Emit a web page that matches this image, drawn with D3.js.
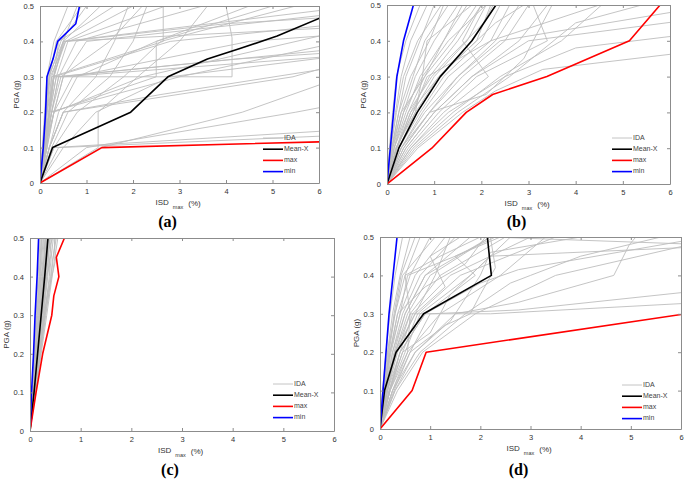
<!DOCTYPE html>
<html>
<head>
<meta charset="utf-8">
<script src="https://cdn.jsdelivr.net/npm/d3@7/dist/d3.min.js"></script>
<style>
html,body{margin:0;padding:0;background:#fff;}
svg{display:block;}
</style>
</head>
<body>
<svg id="chart" width="685" height="480"></svg>
<script>
// ---------------- DATA ----------------
const xTickValues = [0, 1, 2, 3, 4, 5, 6];
const yTickValues = [0, 0.1, 0.2, 0.3, 0.4, 0.5];
const yTickLabels = ["0", "0.1", "0.2", "0.3", "0.4", "0.5"];
const legendLabels = ["IDA", "Mean-X", "max", "min"];
const panelLabels = ["(a)", "(b)", "(c)", "(d)"];

// Panel (a)
const minA = [[0,0],[0.07,0.1],[0.12,0.2],[0.15,0.3],[0.28,0.35],[0.38,0.4],[0.77,0.45],[0.85,0.5]];
const meanA = [[0,0],[0.27,0.1],[1.95,0.2],[2.75,0.3],[3.6,0.35],[4.3,0.38],[5.1,0.415],[6,0.465],[6.6,0.49]];
const maxA = [[0,0],[1.33,0.1],[6.5,0.118]];
const idaA = [
  [[0,0],[0.05,0.1],[0.1,0.2],[0.15,0.3],[0.3,0.4],[0.6,0.5]],
  [[0,0],[0.06,0.1],[0.12,0.2],[0.2,0.3],[0.45,0.4],[1.0,0.5]],
  [[0,0],[0.08,0.1],[0.15,0.2],[0.25,0.3],[0.5,0.4],[1.3,0.5]],
  [[0,0],[0.07,0.1],[0.14,0.2],[0.22,0.3],[0.55,0.4],[2.0,0.5]],
  [[0,0],[0.1,0.1],[0.2,0.2],[0.3,0.3],[0.52,0.4],[6.5,0.495]],
  [[0,0],[0.09,0.1],[0.18,0.2],[0.28,0.3],[0.55,0.4],[4.0,0.45],[6.5,0.47]],
  [[0,0],[0.1,0.1],[0.22,0.2],[0.35,0.3],[0.6,0.4],[2.7,0.5]],
  [[0,0],[0.12,0.1],[0.25,0.2],[0.4,0.3],[0.78,0.4],[3.5,0.5]],
  [[0,0],[0.1,0.1],[0.2,0.2],[0.25,0.3],[2.65,0.4],[2.65,0.5]],
  [[0,0],[0.12,0.1],[0.2,0.2],[0.3,0.3],[4.13,0.3],[4.13,0.41],[4.0,0.5]],
  [[0,0],[0.1,0.1],[0.25,0.2],[2.5,0.3],[2.5,0.4],[5.0,0.5]],
  [[0,0],[0.15,0.1],[0.3,0.2],[0.5,0.3],[1.0,0.4],[6.5,0.48]],
  [[0,0],[0.1,0.1],[0.3,0.2],[0.5,0.3],[6.5,0.36]],
  [[0,0],[0.13,0.1],[0.25,0.2],[0.4,0.3],[6.5,0.38]],
  [[0,0],[0.1,0.1],[0.2,0.2],[3.0,0.3],[6.5,0.4]],
  [[0,0],[0.15,0.1],[0.3,0.2],[2.2,0.3],[6.5,0.43]],
  [[0,0],[0.2,0.1],[0.5,0.2],[5.44,0.3],[6.5,0.34]],
  [[0,0],[1.3,0.1],[4.35,0.2],[6.5,0.3]],
  [[0,0],[1.25,0.1],[1.25,0.2],[2.1,0.3],[3.0,0.4],[3.6,0.5]],
  [[0,0],[0.3,0.1],[6.5,0.15]],
  [[0,0],[0.4,0.1],[6.5,0.135]],
  [[0,0],[1.0,0.1],[5.5,0.2],[6.5,0.225]],
  [[0,0],[0.25,0.1],[0.6,0.2],[1.5,0.3],[2.0,0.4],[2.3,0.5]],
  [[0,0],[0.2,0.1],[0.5,0.2],[1.2,0.3],[1.6,0.4],[1.9,0.5]],
  [[0,0],[0.08,0.1],[0.2,0.2],[0.3,0.3],[0.5,0.4],[0.8,0.5]],
  [[0,0],[0.05,0.1],[0.12,0.2],[0.18,0.3],[0.5,0.4],[6.5,0.44]],
  [[0,0],[0.07,0.1],[0.15,0.2],[0.3,0.3],[2.8,0.4],[6.5,0.45]],
  [[0,0],[0.1,0.1],[0.2,0.2],[0.35,0.3],[4.2,0.35],[6.5,0.37]],
  [[0,0],[0.12,0.1],[0.3,0.2],[0.7,0.3],[4.5,0.4],[6.5,0.42]],
  [[0,0],[0.1,0.1],[0.25,0.2],[0.45,0.3],[1.5,0.4],[2.2,0.5]],
  [[0,0],[0.2,0.1],[0.4,0.2],[0.8,0.3],[2.5,0.4],[4.5,0.5]],
  [[0,0],[0.3,0.1],[0.8,0.2],[1.8,0.3],[2.6,0.4],[5.5,0.5]],
  [[0,0],[0.5,0.1],[1.2,0.2],[2.8,0.3],[6.5,0.36]],
  [[0,0],[0.2,0.1],[0.5,0.2],[2.6,0.25],[6.5,0.33]],
  [[0,0],[0.15,0.1],[0.2,0.2],[0.3,0.3],[0.4,0.4],[1.6,0.5]],
  [[0,0],[0.1,0.1],[0.15,0.2],[0.2,0.3],[0.35,0.4],[0.9,0.5]]
];

// Panel (b)
const minB = [[0,0],[0.07,0.1],[0.14,0.2],[0.21,0.3],[0.35,0.4],[0.56,0.5]];
const meanB = [[0,0],[0.25,0.1],[0.64,0.2],[1.13,0.3],[1.8,0.4],[2.31,0.5]];
const maxB = [[0,0],[0.95,0.1],[1.68,0.2],[2.24,0.25],[3.39,0.3],[5.14,0.4],[5.79,0.5]];
const idaB = [
  [[0,0],[0.05,0.1],[0.12,0.2],[0.2,0.3],[0.4,0.4],[0.7,0.5]],
  [[0,0],[0.08,0.1],[0.18,0.2],[0.3,0.3],[0.5,0.4],[0.85,0.5]],
  [[0,0],[0.1,0.1],[0.25,0.2],[0.4,0.3],[0.7,0.4],[1.0,0.5]],
  [[0,0],[0.1,0.1],[0.3,0.2],[0.55,0.3],[0.8,0.4],[1.3,0.5]],
  [[0,0],[0.12,0.1],[0.35,0.2],[0.6,0.3],[1.0,0.4],[1.5,0.5]],
  [[0,0],[0.15,0.1],[0.4,0.2],[0.7,0.3],[1.2,0.4],[1.7,0.5]],
  [[0,0],[0.15,0.1],[0.45,0.2],[0.8,0.3],[1.4,0.4],[1.9,0.5]],
  [[0,0],[0.2,0.1],[0.5,0.2],[0.9,0.3],[1.5,0.4],[2.0,0.5]],
  [[0,0],[0.2,0.1],[0.55,0.2],[1.0,0.3],[1.7,0.4],[2.1,0.5]],
  [[0,0],[0.25,0.1],[0.6,0.2],[1.1,0.3],[1.9,0.4],[2.2,0.5]],
  [[0,0],[0.25,0.1],[0.7,0.2],[1.2,0.3],[2.0,0.4],[2.4,0.5]],
  [[0,0],[0.3,0.1],[0.75,0.2],[1.3,0.3],[2.2,0.4],[2.6,0.5]],
  [[0,0],[0.3,0.1],[0.8,0.2],[1.5,0.3],[2.3,0.4],[2.8,0.5]],
  [[0,0],[0.35,0.1],[0.9,0.2],[1.6,0.3],[2.5,0.4],[3.0,0.5]],
  [[0,0],[0.4,0.1],[1.0,0.2],[1.8,0.3],[2.8,0.4],[3.4,0.5]],
  [[0,0],[0.45,0.1],[1.1,0.2],[1.9,0.3],[3.4,0.4],[3.1,0.5]],
  [[0,0],[0.5,0.1],[1.2,0.2],[2.15,0.3],[1.6,0.4],[2.0,0.5]],
  [[0,0],[0.55,0.1],[1.4,0.2],[2.4,0.3],[3.7,0.4],[4.55,0.5]],
  [[0,0],[0.6,0.1],[1.5,0.2],[2.6,0.3],[4.0,0.45],[5.4,0.5]],
  [[0,0],[0.65,0.1],[1.6,0.2],[2.3,0.26],[3.3,0.32],[6.5,0.37]],
  [[0,0],[0.5,0.1],[1.3,0.2],[2.5,0.3],[4.0,0.38],[6.5,0.42]],
  [[0,0],[0.4,0.1],[1.0,0.2],[1.8,0.3],[3.0,0.4],[6.5,0.46]],
  [[0,0],[0.35,0.1],[0.9,0.2],[1.5,0.3],[2.4,0.4],[6.5,0.49]],
  [[0,0],[0.2,0.1],[0.55,0.2],[0.85,0.3],[2.2,0.4],[4.5,0.5]],
  [[0,0],[0.1,0.1],[0.25,0.2],[0.5,0.3],[0.9,0.4],[1.2,0.5]],
  [[0,0],[0.12,0.1],[0.3,0.2],[0.8,0.3],[1.2,0.4],[1.6,0.5]],
  [[0,0],[0.18,0.1],[0.6,0.2],[0.75,0.3],[1.3,0.4],[2.1,0.5]],
  [[0,0],[0.3,0.1],[0.9,0.2],[2.1,0.25],[2.9,0.35],[3.5,0.5]],
  [[0,0],[0.22,0.1],[0.5,0.2],[1.1,0.3],[1.9,0.4],[2.3,0.45],[2.9,0.5]],
  [[0,0],[0.08,0.1],[0.2,0.2],[0.35,0.3],[0.65,0.4],[1.15,0.5]],
  [[0,0],[0.15,0.1],[0.35,0.2],[0.75,0.3],[0.85,0.4],[1.8,0.5]],
  [[0,0],[0.2,0.1],[0.45,0.2],[0.95,0.3],[1.3,0.35],[2.05,0.45],[2.25,0.5]]
];

// Panel (c)
const minC = [[0,0],[0.03,0.1],[0.07,0.2],[0.1,0.3],[0.14,0.4],[0.17,0.5]];
const meanC = [[0,0],[0.08,0.1],[0.15,0.2],[0.22,0.3],[0.29,0.4],[0.355,0.5]];
const maxC = [[0,0],[0.12,0.1],[0.25,0.2],[0.43,0.3],[0.47,0.35],[0.57,0.4],[0.52,0.45],[0.68,0.5]];
const idaC = [
  [[0,0],[0.04,0.1],[0.08,0.2],[0.12,0.3],[0.16,0.4],[0.2,0.5]],
  [[0,0],[0.05,0.1],[0.1,0.2],[0.14,0.3],[0.19,0.4],[0.23,0.5]],
  [[0,0],[0.05,0.1],[0.11,0.2],[0.16,0.3],[0.21,0.4],[0.26,0.5]],
  [[0,0],[0.06,0.1],[0.12,0.2],[0.18,0.3],[0.23,0.4],[0.28,0.5]],
  [[0,0],[0.06,0.1],[0.13,0.2],[0.19,0.3],[0.25,0.4],[0.3,0.5]],
  [[0,0],[0.07,0.1],[0.14,0.2],[0.2,0.3],[0.27,0.4],[0.32,0.5]],
  [[0,0],[0.07,0.1],[0.15,0.2],[0.22,0.3],[0.28,0.4],[0.34,0.5]],
  [[0,0],[0.08,0.1],[0.16,0.2],[0.23,0.3],[0.3,0.4],[0.37,0.5]],
  [[0,0],[0.08,0.1],[0.17,0.2],[0.25,0.3],[0.32,0.4],[0.4,0.5]],
  [[0,0],[0.09,0.1],[0.18,0.2],[0.27,0.3],[0.35,0.4],[0.43,0.5]],
  [[0,0],[0.1,0.1],[0.2,0.2],[0.29,0.3],[0.38,0.4],[0.46,0.5]],
  [[0,0],[0.1,0.1],[0.21,0.2],[0.31,0.3],[0.42,0.4],[0.5,0.5]],
  [[0,0],[0.11,0.1],[0.22,0.2],[0.33,0.3],[0.48,0.44],[0.55,0.5]],
  [[0,0],[0.07,0.1],[0.13,0.2],[0.21,0.3],[0.3,0.38],[0.33,0.45],[0.4,0.5]],
  [[0,0],[0.06,0.1],[0.12,0.2],[0.17,0.3],[0.22,0.4],[0.3,0.46],[0.27,0.5]],
  [[0,0],[0.09,0.1],[0.19,0.2],[0.3,0.32],[0.4,0.4],[0.36,0.47],[0.45,0.5]],
  [[0,0],[0.05,0.1],[0.09,0.2],[0.15,0.3],[0.2,0.4],[0.24,0.5]],
  [[0,0],[0.08,0.1],[0.15,0.2],[0.24,0.3],[0.33,0.4],[0.42,0.46],[0.38,0.5]],
  [[0,0],[0.1,0.1],[0.19,0.2],[0.28,0.3],[0.36,0.36],[0.5,0.44],[0.48,0.5]],
  [[0,0],[0.06,0.1],[0.11,0.2],[0.19,0.3],[0.25,0.4],[0.31,0.5]],
  [[0,0],[0.07,0.1],[0.14,0.2],[0.2,0.3],[0.26,0.4],[0.35,0.45],[0.32,0.5]],
  [[0,0],[0.09,0.1],[0.17,0.2],[0.26,0.3],[0.34,0.4],[0.39,0.5]],
  [[0,0],[0.04,0.1],[0.09,0.2],[0.13,0.3],[0.18,0.4],[0.22,0.5]],
  [[0,0],[0.11,0.1],[0.2,0.2],[0.3,0.3],[0.4,0.38],[0.44,0.44],[0.52,0.5]]
];

// Panel (d)
const minD = [[0,0],[0.06,0.1],[0.12,0.2],[0.18,0.3],[0.26,0.4],[0.34,0.5]];
const meanD = [[0,0],[0.09,0.1],[0.32,0.2],[0.87,0.3],[2.22,0.4],[2.14,0.5]];
const maxD = [[0,0],[0.64,0.1],[0.92,0.2],[6.5,0.308]];
const idaD = [
  [[0,0],[0.05,0.1],[0.12,0.2],[0.2,0.3],[0.3,0.4],[0.45,0.5]],
  [[0,0],[0.06,0.1],[0.15,0.2],[0.25,0.3],[0.4,0.4],[0.6,0.5]],
  [[0,0],[0.08,0.1],[0.18,0.2],[0.3,0.3],[0.5,0.4],[0.8,0.5]],
  [[0,0],[0.1,0.1],[0.2,0.2],[0.35,0.3],[0.6,0.4],[1.0,0.5]],
  [[0,0],[0.1,0.1],[0.22,0.2],[0.4,0.3],[0.7,0.4],[1.3,0.5]],
  [[0,0],[0.12,0.1],[0.25,0.2],[0.45,0.3],[0.8,0.4],[1.5,0.5]],
  [[0,0],[0.12,0.1],[0.28,0.2],[0.5,0.3],[0.9,0.4],[1.8,0.5]],
  [[0,0],[0.15,0.1],[0.3,0.2],[0.55,0.3],[1.0,0.4],[2.2,0.5]],
  [[0,0],[0.15,0.1],[0.35,0.2],[0.6,0.3],[1.2,0.4],[2.5,0.5]],
  [[0,0],[0.18,0.1],[0.4,0.2],[0.65,0.3],[1.4,0.4],[3.0,0.5]],
  [[0,0],[0.2,0.1],[0.45,0.2],[0.75,0.3],[1.6,0.4],[3.5,0.5]],
  [[0,0],[0.2,0.1],[0.5,0.2],[0.8,0.3],[1.8,0.4],[2.2,0.45],[6.5,0.475]],
  [[0,0],[0.25,0.1],[0.55,0.2],[0.6,0.3],[2.2,0.3],[6.5,0.33]],
  [[0,0],[0.25,0.1],[0.6,0.2],[1.0,0.3],[2.76,0.31],[6.5,0.362]],
  [[0,0],[0.3,0.1],[0.7,0.2],[1.5,0.3],[2.76,0.33],[4.66,0.4],[4.97,0.48],[5.1,0.5]],
  [[0,0],[0.2,0.1],[0.4,0.2],[0.9,0.3],[2.0,0.38],[2.76,0.415],[6.5,0.5]],
  [[0,0],[0.1,0.1],[0.25,0.2],[0.5,0.3],[0.9,0.4],[2.2,0.5],[6.5,0.48]],
  [[0,0],[0.08,0.1],[0.2,0.2],[0.4,0.3],[0.55,0.4],[1.5,0.45],[2.4,0.5]],
  [[0,0],[0.12,0.1],[0.3,0.2],[0.6,0.3],[0.5,0.4],[1.2,0.45],[2.0,0.5]],
  [[0,0],[0.15,0.1],[0.4,0.2],[0.9,0.3],[1.9,0.4],[1.5,0.45],[2.3,0.5]],
  [[0,0],[0.2,0.1],[0.55,0.2],[1.2,0.3],[2.4,0.4],[3.3,0.5]],
  [[0,0],[0.3,0.1],[0.8,0.2],[1.7,0.3],[2.6,0.38],[3.0,0.4],[4.0,0.45],[5.6,0.5]],
  [[0,0],[0.35,0.1],[0.85,0.2],[1.9,0.3],[3.5,0.4],[6.5,0.49]],
  [[0,0],[0.1,0.1],[0.3,0.2],[0.7,0.3],[1.1,0.4],[1.4,0.5]],
  [[0,0],[0.05,0.1],[0.15,0.2],[0.3,0.3],[0.45,0.4],[1.1,0.5]],
  [[0,0],[0.07,0.1],[0.2,0.2],[0.35,0.3],[0.9,0.37],[1.7,0.43],[2.1,0.5]],
  [[0,0],[0.18,0.1],[0.45,0.2],[1.0,0.25],[1.4,0.35],[2.6,0.5]],
  [[0,0],[0.25,0.1],[0.7,0.2],[1.3,0.27],[1.8,0.3],[2.0,0.35],[2.3,0.42],[2.2,0.5]],
  [[0,0],[0.08,0.1],[0.17,0.2],[0.28,0.3],[0.42,0.4],[0.7,0.5]],
  [[0,0],[0.13,0.1],[0.33,0.2],[0.7,0.3],[1.3,0.37],[1.0,0.45],[1.6,0.5]],
  [[0,0],[0.28,0.1],[0.6,0.2],[1.4,0.28],[2.0,0.4],[2.2,0.46],[4.0,0.5]]
];

// ---------------- DRAW ----------------
const svg = d3.select("#chart");
const COLORS = {ida: "#bdbdbd", mean: "#000000", max: "#ff0000", min: "#0000ff", axis: "#8c8c8c", text: "#333333"};

const panels = [
  {ida: idaA, mean: meanA, max: maxA, min: minA, label: panelLabels[0], x0: 40, x1: 319, y0: 6, y1: 183, leg: [263, 137], labY: 222},
  {ida: idaB, mean: meanB, max: maxB, min: minB, label: panelLabels[1], x0: 387, x1: 670, y0: 5, y1: 184, leg: [612, 137], labY: 222},
  {ida: idaC, mean: meanC, max: maxC, min: minC, label: panelLabels[2], x0: 30, x1: 334, y0: 238, y1: 431, leg: [273, 383], labY: 470},
  {ida: idaD, mean: meanD, max: maxD, min: minD, label: panelLabels[3], x0: 380, x1: 681, y0: 237, y1: 429, leg: [622, 384], labY: 470}
];

panels.forEach((p, i) => {
  const x = d3.scaleLinear().domain([0, 6]).range([p.x0, p.x1]);
  const y = d3.scaleLinear().domain([0, 0.5]).range([p.y1, p.y0]);
  const g = svg.append("g");
  const clipId = "clip" + i;
  svg.append("defs").append("clipPath").attr("id", clipId)
    .append("rect").attr("x", p.x0).attr("y", p.y0).attr("width", p.x1 - p.x0).attr("height", p.y1 - p.y0);

  const line = d3.line().x(d => x(d[0])).y(d => y(d[1]));
  const plot = g.append("g").attr("clip-path", `url(#${clipId})`);
  plot.selectAll("path.ida").data(p.ida).enter().append("path")
    .attr("class", "ida").attr("d", line)
    .attr("fill", "none").attr("stroke", COLORS.ida).attr("stroke-width", 0.9);
  [[p.mean, COLORS.mean], [p.max, COLORS.max], [p.min, COLORS.min]].forEach(([data, c]) => {
    plot.append("path").datum(data).attr("d", line)
      .attr("fill", "none").attr("stroke", c).attr("stroke-width", 1.6).attr("stroke-linejoin", "round");
  });

  // Axes (box with inward ticks)
  const tickStyle = sel => {
    sel.select(".domain").attr("stroke", COLORS.axis);
    sel.selectAll(".tick line").attr("stroke", COLORS.axis);
    sel.selectAll("text").attr("fill", COLORS.text).attr("font-family", "Liberation Sans, Arial, sans-serif").attr("font-size", 7.5);
  };
  g.append("g").attr("transform", `translate(0,${p.y1})`)
    .call(d3.axisBottom(x).tickValues(xTickValues).tickFormat(d3.format("d")).tickSizeInner(-3).tickSizeOuter(0).tickPadding(6))
    .call(tickStyle);
  g.append("g").attr("transform", `translate(0,${p.y0})`)
    .call(d3.axisTop(x).tickValues(xTickValues).tickFormat("").tickSizeInner(-3).tickSizeOuter(0))
    .call(tickStyle);
  g.append("g").attr("transform", `translate(${p.x0},0)`)
    .call(d3.axisLeft(y).tickValues(yTickValues).tickFormat((d, k) => yTickLabels[k]).tickSizeInner(-3).tickSizeOuter(0).tickPadding(6))
    .call(tickStyle);
  g.append("g").attr("transform", `translate(${p.x1},0)`)
    .call(d3.axisRight(y).tickValues(yTickValues).tickFormat("").tickSizeInner(-3).tickSizeOuter(0))
    .call(tickStyle);

  // Axis titles
  const font = "Liberation Sans, Arial, sans-serif";
  const cx = (p.x0 + p.x1) / 2;
  const ty = p.y1 + 22;
  const xt = g.append("text").attr("x", cx - 24).attr("y", ty)
    .attr("font-family", font).attr("font-size", 8).attr("fill", COLORS.text);
  xt.append("tspan").text("ISD");
  xt.append("tspan").attr("dx", 4).attr("dy", 4).attr("font-size", 5.5).text("max");
  xt.append("tspan").attr("dx", 5).attr("dy", -3).text("(%)");

  const cy = (p.y0 + p.y1) / 2;
  const yx = p.x0 - 21;
  g.append("text").attr("transform", `translate(${yx},${cy}) rotate(-90)`)
    .attr("text-anchor", "middle").attr("font-family", font).attr("font-size", 8).attr("fill", COLORS.text)
    .text("PGA (g)");

  // Legend
  const legColors = [COLORS.ida, COLORS.mean, COLORS.max, COLORS.min];
  const legWidths = [0.9, 1.6, 1.6, 1.6];
  legendLabels.forEach((lab, k) => {
    const ly = p.leg[1] + k * 11.2;
    g.append("line").attr("x1", p.leg[0]).attr("x2", p.leg[0] + 20).attr("y1", ly + 1).attr("y2", ly + 1)
      .attr("stroke", legColors[k]).attr("stroke-width", legWidths[k]);
    g.append("text").attr("x", p.leg[0] + 21).attr("y", ly + 2.5)
      .attr("font-family", font).attr("font-size", 7).attr("fill", "#444").text(lab);
  });

  // Panel label
  g.append("text").attr("x", cx - 12).attr("y", p.labY + 5).attr("text-anchor", "middle")
    .attr("font-family", "Liberation Serif, Times New Roman, serif").attr("font-weight", "bold")
    .attr("font-size", 16).attr("fill", "#000").text(p.label);
});
</script>
</body>
</html>
